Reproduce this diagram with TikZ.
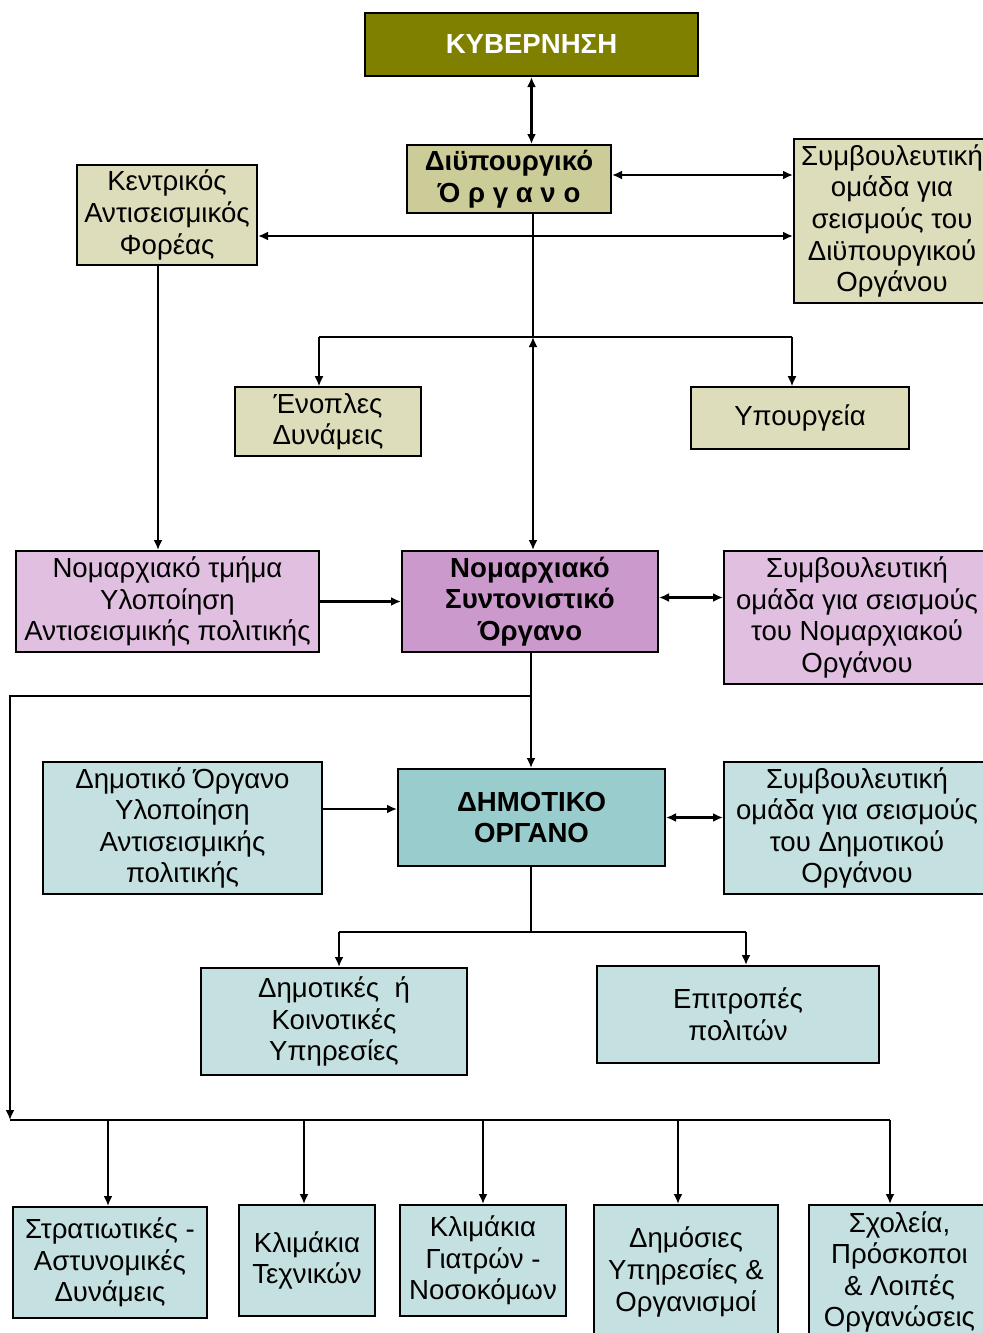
\documentclass[tikz,border=0pt]{standalone}
\usepackage{fontspec}
\setmainfont{Liberation Sans}
\usetikzlibrary{arrows.meta,calc}
\definecolor{GvOlive}{HTML}{808000}
\definecolor{DiKhaki}{HTML}{CCCC99}
\definecolor{LtKhaki}{HTML}{DDDDBB}
\definecolor{NoMauve}{HTML}{CC99CC}
\definecolor{LtMauve}{HTML}{E0BFE0}
\definecolor{DmTeal}{HTML}{99CCCC}
\definecolor{LtTeal}{HTML}{C5E0E0}

\begin{document}
\begin{tikzpicture}[x=0.5pt,y=-0.5pt,>={Latex[length=5pt,width=4.5pt]},
    box/.style={draw=black,line width=1pt,align=center,inner sep=1pt,font=\fontsize{13.8}{15.8}\selectfont},
    bbox/.style={box,font=\fontsize{13.8}{15.8}\selectfont\bfseries},
    conn/.style={line width=1.1pt},
    thinconn/.style={line width=0.6pt}]
        \clip (0,0) rectangle (983,1333);
        % government level
        \node[bbox,fill=GvOlive,text=white,minimum width=166.5pt,minimum height=31.5pt] (kyv) at (531.5,44.5) {ΚΥΒΕΡΝΗΣΗ};
        \node[bbox,fill=DiKhaki,minimum width=102pt,minimum height=34pt] (diy) at (509,179) {Διϋπουργικό\\Ό ρ γ α ν ο};
        \node[box,fill=LtKhaki,minimum width=90pt,minimum height=50pt] (kent) at (167,215) {Κεντρικός\\Αντισεισμικός\\Φορέας};
        \node[box,fill=LtKhaki,minimum width=98pt,minimum height=82pt] (symb1) at (892,221) {Συμβουλευτική\\ομάδα για\\σεισμούς του\\Διϋπουργικού\\Οργάνου};
        \node[box,fill=LtKhaki,minimum width=93pt,minimum height=34.5pt] (enop) at (328,421.5) {Ένοπλες\\Δυνάμεις};
        \node[box,fill=LtKhaki,minimum width=109pt,minimum height=31pt] (ypo) at (800,418) {Υπουργεία};
        % prefecture level
        \node[box,fill=LtMauve,minimum width=151.5pt,minimum height=50.5pt] (nomt) at (167.5,601.5) {Νομαρχιακό τμήμα\\Υλοποίηση\\Αντισεισμικής πολιτικής};
        \node[bbox,fill=NoMauve,minimum width=128pt,minimum height=50.5pt] (nomso) at (530,601.5) {Νομαρχιακό\\Συντονιστικό\\Όργανο};
        \node[box,fill=LtMauve,minimum width=133pt,minimum height=66.5pt] (symb2) at (857,617.5) {Συμβουλευτική\\ομάδα για σεισμούς\\του Νομαρχιακού\\Οργάνου};
        % municipal level
        \node[box,fill=LtTeal,minimum width=139.5pt,minimum height=66pt] (dimo) at (182.5,828) {Δημοτικό Όργανο\\Υλοποίηση\\Αντισεισμικής\\πολιτικής};
        \node[bbox,fill=DmTeal,minimum width=133.5pt,minimum height=48.5pt] (dimorg) at (531.5,817.5) {ΔΗΜΟΤΙΚΟ\\ΟΡΓΑΝΟ};
        \node[box,fill=LtTeal,minimum width=133pt,minimum height=66pt] (symb3) at (857,828) {Συμβουλευτική\\ομάδα για σεισμούς\\του Δημοτικού\\Οργάνου};
        \node[box,fill=LtTeal,minimum width=133pt,minimum height=53.5pt] (dimyp) at (334,1021.5) {Δημοτικές\ \ ή\\Κοινοτικές\\Υπηρεσίες};
        \node[box,fill=LtTeal,minimum width=141pt,minimum height=48.5pt] (epit) at (738,1014.5) {Επιτροπές\\πολιτών};
        \node[box,fill=LtTeal,minimum width=97pt,minimum height=55.5pt] (strat) at (110,1262.5) {Στρατιωτικές -\\Αστυνομικές\\Δυνάμεις};
        \node[box,fill=LtTeal,minimum width=68pt,minimum height=55.5pt] (klt) at (307,1260.5) {Κλιμάκια\\Τεχνικών};
        \node[box,fill=LtTeal,minimum width=83pt,minimum height=55.5pt] (klg) at (483,1260.5) {Κλιμάκια\\Γιατρών -\\Νοσοκόμων};
        \node[box,fill=LtTeal,minimum width=92pt,minimum height=67pt] (dimos) at (686,1272) {Δημόσιες\\Υπηρεσίες \&\\Οργανισμοί};
        \node[box,fill=LtTeal,minimum width=90.5pt,minimum height=67pt] (sxol) at (899.5,1272) {Σχολεία,\\Πρόσκοποι\\\& Λοιπές\\Οργανώσεις};
        \coordinate (bus1) at (533,337);
        \coordinate (j1) at (531,696);
        \coordinate (lft) at (10,1120);
        \coordinate (j2) at (531,932);
        % top links
        \draw[conn,<->] (kyv.south) -- (kyv.south |- diy.north);
        \draw[conn,<->] ([yshift=2pt]diy.east) -- ([yshift=2pt]diy.east -| symb1.west);
        \draw[conn,<->] ([yshift=-10.5pt]kent.east) -- ([yshift=-10.5pt]kent.east -| symb1.west);
        \draw[thinconn] (diy.south -| bus1) -- (bus1);
        \draw[thinconn] (319,337) -- (792,337);
        \draw[thinconn,->] (319,337) -- (319,337 |- enop.north);
        \draw[thinconn,->] (792,337) -- (792,337 |- ypo.north);
        \draw[conn,<->] (nomso.north -| bus1) -- (bus1);
        \draw[conn,->] ([xshift=-4.5pt]kent.south) -- ([xshift=-4.5pt]kent.south |- nomt.north);
        % prefecture links
        \draw[conn,->] (nomt.east) -- (nomso.west);
        \draw[conn,<->] ([yshift=2pt]nomso.east) -- ([yshift=2pt]nomso.east -| symb2.west);
        \draw[conn,->] (nomso.south -| j1) -- (j1 |- dimorg.north);
        \draw[conn,->] (j1) -| (lft);
        \draw[conn] (lft) -- (890,1120);
        \foreach \b/\xx in {strat/108,klt/304,klg/483,dimos/678,sxol/890}
            \draw[conn,->] (\xx,1120) -- (\xx,1120 |- \b.north);
        % municipal links
        \draw[conn,->] ([yshift=9.5pt]dimo.east) -- ([yshift=9.5pt]dimo.east -| dimorg.west);
        \draw[conn,<->] (dimorg.east) -- (dimorg.east -| symb3.west);
        \draw[conn] (dimorg.south -| j2) -- (j2);
        \draw[conn] (339,932) -- (746,932);
        \draw[conn,->] (339,932) -- (339,932 |- dimyp.north);
        \draw[conn,->] (746,932) -- (746,932 |- epit.north);
\end{tikzpicture}
\end{document}
